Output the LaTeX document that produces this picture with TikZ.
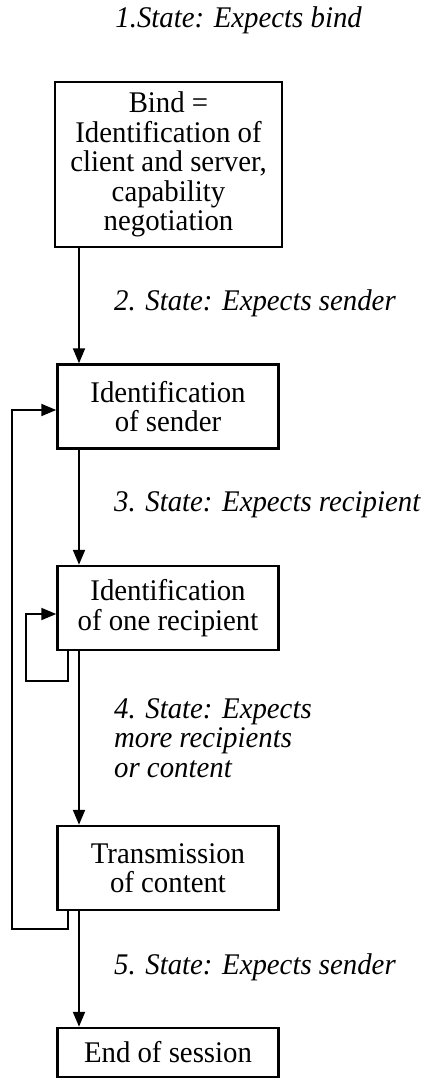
\documentclass[tikz,border=0pt]{standalone}
\usepackage{fontspec}
\setmainfont{Liberation Serif}[FakeStretch=0.96]
\usepackage{tikz}
\usetikzlibrary{arrows.meta}

\begin{document}
\begin{tikzpicture}[x=1pt, y=-1pt,
    box/.style={draw, line width=2.5pt, inner sep=0pt, align=center, minimum width=221pt, minimum height=84pt},
    flow/.style={line width=2pt, -{Triangle[length=15pt, width=12pt]}},
    statelabel/.style={inner sep=0pt, align=left, anchor=west, font=\fontsize{30}{29.5}\selectfont\itshape},
    font=\fontsize{30}{29.5}\selectfont]
            \useasboundingbox (0,0) rectangle (422,1079);
            \coordinate (arrowx) at (79,0);
            \coordinate (loopx) at (68,0);

            \node[box, minimum width=227pt, minimum height=165pt] (bind) at (168.5,164.5)
                {Bind =\\Identification of\\client and server,\\capability\\negotiation};
            \node[box] (sender) at (168,406.5) {Identification\\of sender};
            \node[box] (recipient) at (168,608) {Identification\\of one recipient};
            \node[box] (content) at (168,868) {Transmission\\of content};
            \node[box, minimum height=49pt] (end) at (168,1052.5) {End of session};

            \node[statelabel, anchor=east] (state1) at (362,20) {1.State: Expects bind};
            \node[statelabel] (state2) at (114,303) {2. State: Expects sender};
            \node[statelabel] (state3) at (114,505) {3. State: Expects recipient};
            \node[statelabel] (state4) at (114,738) {4. State: Expects\\more recipients\\or content};
            \node[statelabel] (state5) at (114,967) {5. State: Expects sender};

            \draw[flow] (bind.south -| arrowx) -- (sender.north -| arrowx);
            \draw[flow] (sender.south -| arrowx) -- (recipient.north -| arrowx);
            \draw[flow] (recipient.south -| arrowx) -- (content.north -| arrowx);
            \draw[flow] (content.south -| arrowx) -- (end.north -| arrowx);

            % loops back
            \draw[flow] (recipient.south -| loopx) |- ++(-42,30) |- ([yshift=-6pt]recipient.west);
            \draw[flow] (content.south -| loopx) |- ++(-56,18) |- ([yshift=-3.5pt]sender.west);
        \end{tikzpicture}
\end{document}
